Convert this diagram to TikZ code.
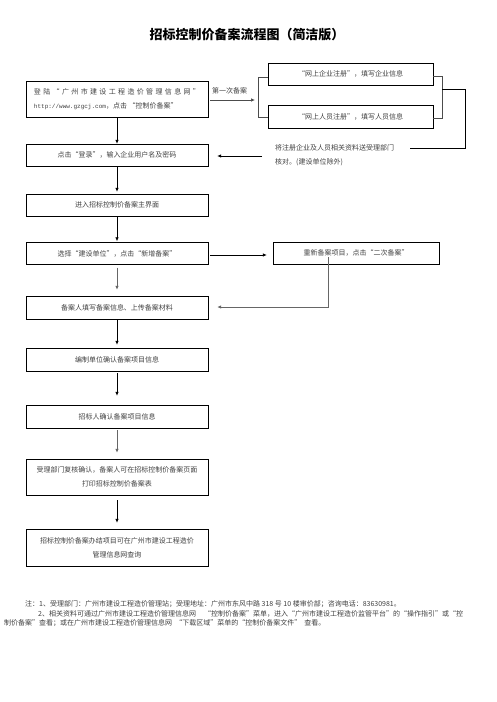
\documentclass[tikz,border=0pt]{standalone}
\usepackage{fontspec}
\setmonofont{Liberation Mono}
\newfontfamily\cjk{Noto Sans CJK SC}
\XeTeXlinebreaklocale "zh"
\XeTeXlinebreakskip = 0pt plus 1pt
\usetikzlibrary{arrows.meta}

\begin{document}
\begin{tikzpicture}[x=1pt,y=-1pt,thin,
      stepbox/.style = {draw, minimum width = 182pt, minimum height = 22pt,
        inner sep = 1pt, align = center, font = \cjk\fontsize{7}{14}\selectfont, text = black!75},
      sidebox/.style = {stepbox, minimum width = 165pt},
      plain/.style = {inner sep = 0pt, font = \cjk\fontsize{7}{14}\selectfont, text = black!75},
      flow/.style = {-{Latex[length=4pt,width=3.5pt]}, line width = 0.7pt},
      grayflow/.style = {flow, draw = black!60, line width = 1pt}]

  \useasboundingbox (0,0) rectangle (496,702);

  % Title
  \node[font = \cjk\bfseries\fontsize{13}{15}\selectfont] (title) at (247,35) {招标控制价备案流程图（简洁版）};

  % Main column
  \node[stepbox, minimum height = 36pt] (login) at (117,99)
    {\makebox[166pt][s]{登 陆 “ 广 州 市 建 设 工 程 造 价 管 理 信 息 网 ”}\\
     \makebox[166pt][l]{{\ttfamily\fontsize{6}{14}\selectfont http://www.gzgcj.com}，点击 “控制价备案”}};
  \node[stepbox] (enter) at (117,155) {点击“登录”，输入企业用户名及密码};
  \node[stepbox] (main) at (117,205) {进入招标控制价备案主界面};
  \node[stepbox] (select) at (117,253.5) {选择“建设单位”，点击“新增备案”};
  \node[stepbox, minimum height = 23pt] (fill) at (117,307.5) {备案人填写备案信息、上传备案材料};
  \node[stepbox, minimum height = 23pt] (unit) at (117,359.5) {编制单位确认备案项目信息};
  \node[stepbox, minimum height = 23pt] (bidder) at (117,416.5) {招标人确认备案项目信息};
  \node[stepbox, minimum height = 36pt] (review) at (117,477)
    {受理部门复核确认，备案人可在招标控制价备案页面\\打印招标控制价备案表};
  \node[stepbox, minimum height = 37pt] (query) at (117,547.5)
    {招标控制价备案办结项目可在广州市建设工程造价\\管理信息网查询};

  % Registration
  \node[sidebox] (firm) at (350.5,74) {“网上企业注册”，填写企业信息};
  \node[sidebox, minimum height = 23pt] (staff) at (350.5,116.5) {“网上人员注册”，填写人员信息};
  \node[plain, anchor = west] (first) at (212,91) {第一次备案};
  \node[plain, anchor = north west, align = left] (send) at (275,144)
    {将注册企业及人员相关资料送受理部门\\核对。(建设单位除外)};

  % Second filing
  \node[sidebox, minimum width = 166pt] (again) at (356,253) {重新备案项目，点击“二次备案”};

  % Notes
  \node[plain, anchor = west] (note1) at (25,604)
    {注：1、受理部门：广州市建设工程造价管理站；受理地址：广州市东风中路 318 号 10 楼审价部；咨询电话：83630981。};
  \node[plain, anchor = west] (note2) at (38,614)
    {\makebox[452pt][s]{2、相关资料可通过广州市建设工程造价管理信息网\hspace{8pt}“控制价备案”菜单，进入“广州市建设工程造价监管平台”的“操作指引”或“控}};
  \node[plain, anchor = west] (note3) at (4,623)
    {制价备案”查看；或在广州市建设工程造价管理信息网 \ “下载区域”菜单的“控制价备案文件” \ 查看。};

  % Bracket points
  \coordinate (lsplit) at (258,100);
  \coordinate (ltop) at (258,77);
  \coordinate (lbot) at (258,117);
  \coordinate (rtop) at (442,76);
  \coordinate (rbot) at (442,118);
  \coordinate (rmid) at (442,89);
  \coordinate (rout) at (465,89);
  \coordinate (rdown) at (465,148);
  \coordinate (sendend) at (410,148);
  \coordinate (sendstart) at (262,156);
  \coordinate (againdown) at (328,307);

  % Connectors
  \draw[flow] (login) -- (enter);
  \draw[flow, shorten >= 2pt] (enter) -- (main);
  \draw[flow, shorten >= 1pt] (main) -- (select);
  \draw[grayflow, shorten < = 3pt, shorten >= 6pt] (select) -- (fill);
  \draw[flow, shorten >= 3pt] (fill) -- (unit);
  \draw[flow, shorten < = 2pt, shorten >= 9pt] (unit) -- (bidder);
  \draw[grayflow, shorten < = 2pt, shorten >= 6pt] (bidder) -- (review);
  \draw[flow, shorten < = 5pt, shorten >= 6pt] (review) -- (query);

  \draw[flow, black!70, shorten < = 2pt] (login.east |- lsplit) -- (lsplit -| 255,0);
  \draw[black!70] (firm.west |- ltop) -- (ltop) -- (lbot) -- (staff.west |- lbot);
  \draw[black!70] (firm.east |- rtop) -- (rtop) -- (rbot) -- (staff.east |- rbot);
  \draw[line width = 0.8pt] (rmid) -- (rout) -- (rdown) -- (sendend);
  \draw[flow, shorten >= 9pt] (sendstart) -- (enter.east |- sendstart);

  \draw[flow, shorten < = 2pt, shorten >= 6pt] (select.east |- 0,255) -- (again.west |- 0,255);
  \draw[grayflow, shorten >= 9pt] ([yshift = 7pt] again.south -| againdown) -- (againdown) -- (fill.east |- againdown);

\end{tikzpicture}
\end{document}
